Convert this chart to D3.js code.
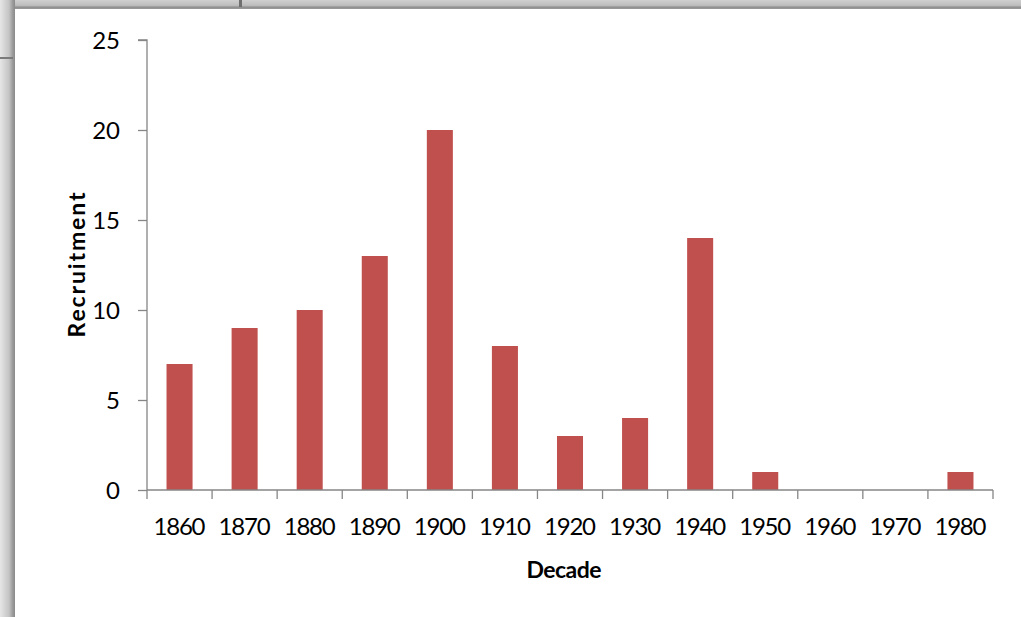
<!DOCTYPE html>
<html>
<head>
<meta charset="utf-8">
<script src="https://cdn.jsdelivr.net/npm/d3@7"></script>
<style>
  html, body { margin: 0; padding: 0; background: #fff; }
  svg { display: block; }
  text { font-family: Lato, "Open Sans", "Noto Sans", sans-serif; fill: #000; }
</style>
</head>
<body>
<svg id="chart" width="1021" height="617"></svg>
<script>
const decades = ["1860","1870","1880","1890","1900","1910","1920","1930","1940","1950","1960","1970","1980"];
const recruitment = [7, 9, 10, 13, 20, 8, 3, 4, 14, 1, 0, 0, 1];
const yTicks = [0, 5, 10, 15, 20, 25];
const xTitle = "Decade";
const yTitle = "Recruitment";

(function () {
const svg = d3.select("#chart");
const W = 1021, H = 617;

// window frame (gray surroundings)
const defs = svg.append("defs");
const gl = defs.append("linearGradient").attr("id", "gl").attr("x1", 0).attr("x2", 1).attr("y1", 0).attr("y2", 0);
gl.append("stop").attr("offset", "0").attr("stop-color", "#e6e6e6");
gl.append("stop").attr("offset", "0.6").attr("stop-color", "#c4c4c4");
gl.append("stop").attr("offset", "0.85").attr("stop-color", "#9a9a9a");
gl.append("stop").attr("offset", "1").attr("stop-color", "#8a8a8a");
const gt = defs.append("linearGradient").attr("id", "gt").attr("x1", 0).attr("x2", 0).attr("y1", 0).attr("y2", 1);
gt.append("stop").attr("offset", "0").attr("stop-color", "#cfcfcf");
gt.append("stop").attr("offset", "0.6").attr("stop-color", "#bdbdbd");
gt.append("stop").attr("offset", "0.8").attr("stop-color", "#8f8f8f");
gt.append("stop").attr("offset", "1").attr("stop-color", "#9a9a9a");

svg.append("rect").attr("x", 0).attr("y", 0).attr("width", W).attr("height", H).attr("fill", "#fff");
svg.append("rect").attr("x", 0).attr("y", 0).attr("width", W).attr("height", 9).attr("fill", "url(#gt)");
svg.append("rect").attr("x", 0).attr("y", 0).attr("width", 15).attr("height", H).attr("fill", "url(#gl)");
svg.append("rect").attr("x", 0).attr("y", 57).attr("width", 13).attr("height", 2).attr("fill", "#7a7a7a");
svg.append("rect").attr("x", 239).attr("y", 0).attr("width", 3).attr("height", 7).attr("fill", "#6f6f6f");

// plot area
const pLeft = 147, pRight = 993, pTop = 40, pBottom = 490;

const x = d3.scaleBand().domain(decades).range([pLeft, pRight]).paddingInner(0.6).paddingOuter(0.3);
const xTickScale = d3.scaleLinear().domain([0, decades.length]).range([pLeft, pRight]);
const y = d3.scaleLinear().domain([0, 25]).range([pBottom, pTop]);

const axisColor = "#868686";

// bars
svg.append("g").selectAll("rect").data(recruitment).join("rect")
  .attr("x", (d, i) => x(decades[i]))
  .attr("y", d => y(d))
  .attr("width", x.bandwidth())
  .attr("height", d => y(0) - y(d))
  .attr("fill", "#C0504D");

// y axis
const yAxis = svg.append("g").attr("transform", `translate(${pLeft},0)`)
  .call(d3.axisLeft(y).tickValues(yTicks).tickSize(9).tickPadding(18));
yAxis.select(".domain").attr("stroke", axisColor).attr("stroke-width", 1.3).attr("d", `M-9,${pTop}H0V${pBottom}`);
yAxis.selectAll(".tick line").attr("stroke", axisColor).attr("stroke-width", 1.3);
yAxis.selectAll(".tick text").style("font-size", "24px").attr("fill", "#1a1a1a").attr("dy", "0.36em");

// x axis
const xAxis = svg.append("g").attr("transform", `translate(0,${pBottom})`)
  .call(d3.axisBottom(x).tickSize(0).tickPadding(28));
xAxis.select(".domain").attr("stroke", axisColor).attr("stroke-width", 1.3).attr("d", `M${pLeft},0H${pRight}`);
xAxis.selectAll(".tick text").style("font-size", "24px").attr("fill", "#1a1a1a").attr("dy", "0.71em")
  .attr("textLength", 52).attr("lengthAdjust", "spacing");
svg.append("g").selectAll("line").data(d3.range(decades.length + 1)).join("line")
  .attr("x1", i => xTickScale(i)).attr("x2", i => xTickScale(i))
  .attr("y1", pBottom).attr("y2", pBottom + 9)
  .attr("stroke", axisColor).attr("stroke-width", 1.3);

// titles
svg.append("text").attr("x", 564).attr("y", 578).attr("text-anchor", "middle")
  .style("font-size", "23px").style("font-weight", "bold").text(xTitle)
  .attr("textLength", 75).attr("lengthAdjust", "spacing");
svg.append("text").attr("transform", "translate(85,265) rotate(-90)").attr("text-anchor", "middle")
  .style("font-size", "23px").style("font-weight", "bold").text(yTitle)
  .attr("textLength", 145).attr("lengthAdjust", "spacing");
})();
</script>
</body>
</html>
